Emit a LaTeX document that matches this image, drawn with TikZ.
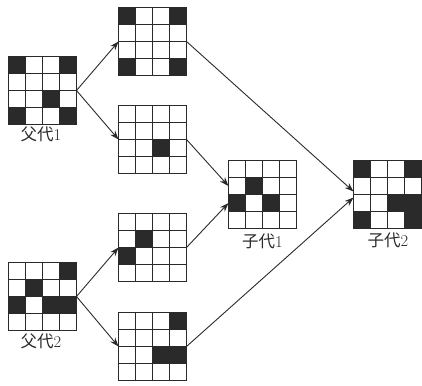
\documentclass[tikz,border=0pt]{standalone}
\usepackage{fontspec}
\newfontfamily\cjk{Noto Sans CJK SC}
\usetikzlibrary{arrows.meta,calc}
\definecolor{ink}{HTML}{2A2A2A}
\tikzset{
 gridbox/.style={draw=ink, line width=1pt, minimum size=68pt, inner sep=0pt, outer sep=0pt},
 gridline/.style={draw=ink, line width=1pt},
 cellfill/.style={fill=ink},
 arr/.style={draw=ink, line width=0.9pt, -{Stealth[length=9pt,width=6.5pt]}},
 lab/.style={font=\fontsize{16.5}{16.5}\selectfont, text=ink, inner sep=0pt},
}
% name, left, top, black cells row/col
\newcommand\mygrid[4]{%
  \node[gridbox] (#1) at ({#2+34},{#3+34}) {};
  \begin{scope}[shift={(#1.north west)}]
    \foreach \r/\c in {#4} {\fill[cellfill] ({(\c-1)*17},{(\r-1)*17}) rectangle ++(17,17);}
    \foreach \i in {1,2,3} {\draw[gridline] ({\i*17},0) -- ({\i*17},68); \draw[gridline] (0,{\i*17}) -- (68,{\i*17});}
  \end{scope}
  \draw[gridline] (#1.north west) rectangle (#1.south east);
}
\begin{document}
\begin{tikzpicture}[x=1pt,y=-1pt]
\useasboundingbox (0,0) rectangle (422,385);
\mygrid{p1}{8.5}{56.5}{1/1,1/4,3/3,4/1,4/4}
\mygrid{t1}{118.5}{7.5}{1/1,1/4,4/1,4/4}
\mygrid{t2}{118.5}{105.5}{3/3}
\mygrid{t3}{118.5}{213.5}{2/2,3/1}
\mygrid{t4}{118.5}{312.5}{1/4,3/3,3/4}
\mygrid{p2}{8.5}{262.5}{1/4,2/2,3/1,3/3,3/4}
\mygrid{c1}{228.5}{160.5}{2/2,3/1,3/3}
\mygrid{c2}{353.5}{160.5}{1/1,1/4,3/3,3/4,4/1,4/4}
\draw[arr] (p1.east) -- (t1.west);
\draw[arr] (p1.east) -- (t2.west);
\draw[arr] (p2.east) -- (t3.west);
\draw[arr] (p2.east) -- (t4.west);
\draw[arr] (t2.east) -- ([yshift=8.5pt]c1.west);
\draw[arr] (t3.east) -- ([yshift=-8.5pt]c1.west);
\draw[arr] (t1.east) -- ([yshift=3pt]c2.west);
\draw[arr] (t4.east) -- ([yshift=-3pt]c2.west);
\node[lab] (l1) at (41,134) {{\cjk 父代}1};
\node[lab] (l2) at (41,341) {{\cjk 父代}2};
\node[lab] (l3) at (262.5,241) {{\cjk 子代}1};
\node[lab] (l4) at (388,240) {{\cjk 子代}2};
\end{tikzpicture}
\end{document}
